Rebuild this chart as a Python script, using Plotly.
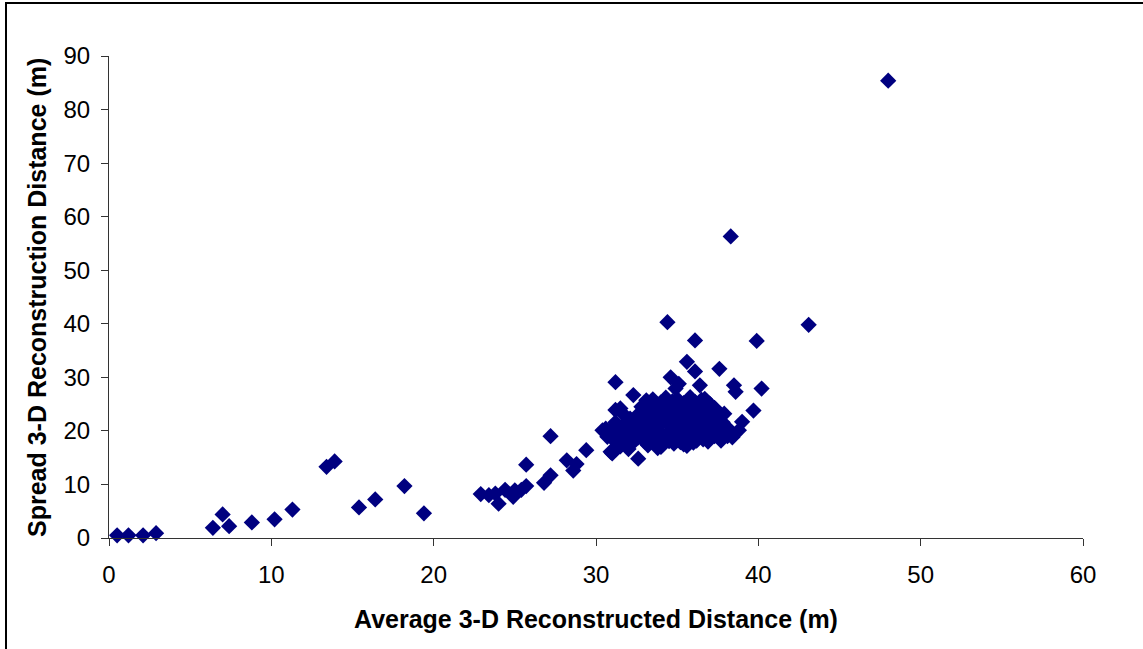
import plotly.graph_objects as go

# Isolated / sparse points
x_sparse = [0.5, 1.2, 2.1, 2.9, 6.4, 7.0, 7.4, 8.8, 10.2, 11.3, 13.4, 13.9, 15.4, 16.4, 18.2, 19.4,
            22.9, 23.4, 23.8, 24.0, 24.4, 24.9, 25.0, 25.4, 25.7, 25.7, 26.8, 27.2, 27.2, 28.2, 28.6, 28.8,
            29.4, 30.4, 30.7, 30.9, 31.2, 31.2, 34.4, 36.1, 38.3, 48.0, 43.1, 39.9, 37.6, 40.2, 39.7, 39.0,
            38.8, 38.4, 38.5, 38.6, 35.6, 36.1, 34.6, 36.4, 32.3, 35.1, 31.5, 33.1, 30.6, 31.0, 32.6]
y_sparse = [0.5, 0.5, 0.5, 0.9, 1.9, 4.4, 2.2, 2.9, 3.5, 5.3, 13.3, 14.3, 5.7, 7.2, 9.7, 4.6,
            8.2, 8.0, 8.3, 6.4, 9.0, 7.7, 8.9, 9.0, 9.7, 13.7, 10.3, 11.7, 19.0, 14.5, 12.6, 13.8,
            16.4, 20.1, 18.9, 16.1, 23.9, 29.1, 40.3, 36.9, 56.3, 85.4, 39.8, 36.8, 31.6, 27.9, 23.8, 21.7,
            20.1, 18.8, 28.5, 27.3, 32.9, 31.1, 30.0, 28.5, 26.7, 28.8, 24.2, 25.7, 20.4, 15.8, 14.8]

# Dense cluster points
x_cluster = [31.5, 32.0, 33.2, 34.0, 34.8, 35.6, 36.2, 33.8, 35.4,
             31.0, 31.8, 32.6, 33.4, 34.2, 35.0, 35.8, 36.6, 37.3,
             30.8, 31.6, 32.4, 33.1, 33.9, 34.6, 35.3, 36.0, 36.8, 37.5, 38.2,
             31.2, 32.0, 32.8, 33.5, 34.3, 35.0, 35.7, 36.4, 37.1, 37.8,
             31.7, 32.5, 33.3, 34.0, 34.8, 35.5, 36.2, 36.9, 37.6,
             32.8, 33.6, 34.4, 35.2, 35.9, 36.6, 37.3,
             33.5, 34.3, 35.0, 35.8, 36.5, 36.7, 34.9, 37.9, 37.2, 36.3,
             31.3, 32.2, 33.0, 33.7, 34.5, 35.2, 36.0, 36.9, 37.7,
             31.2, 32.0, 32.8, 33.6, 34.4, 35.2, 35.9, 36.7, 37.5, 38.1,
             31.6, 32.4, 33.2, 33.9, 34.7, 35.4, 36.1, 36.8, 37.4,
             32.1, 32.9, 33.7, 34.4, 35.1, 35.8, 36.5, 37.2,
             33.2, 34.0, 34.7, 35.5, 36.2, 36.9,
             34.0, 34.7, 35.4, 36.1, 33.0, 37.0]
y_cluster = [17.1, 16.6, 17.3, 17.0, 17.6, 17.2, 18.2, 16.8, 17.5,
             18.6, 18.4, 18.8, 18.3, 18.7, 18.5, 18.9, 18.4, 19.0,
             20.0, 20.2, 19.8, 20.3, 19.9, 20.1, 20.4, 19.8, 20.2, 19.9, 20.3,
             21.6, 21.4, 21.7, 21.3, 21.8, 21.5, 21.9, 21.4, 21.7, 21.6,
             23.1, 22.8, 23.2, 22.9, 23.3, 23.0, 23.4, 22.8, 23.1,
             24.5, 24.8, 24.4, 24.7, 24.5, 24.9, 24.3,
             25.9, 26.2, 26.0, 26.3, 25.8, 26.0, 27.9, 23.2, 19.8, 18.9,
             17.8, 17.6, 18.0, 17.7, 18.1, 17.9, 17.8, 18.0, 18.2,
             19.3, 19.1, 19.4, 19.2, 19.5, 19.3, 19.6, 19.2, 19.4, 19.0,
             20.8, 20.9, 20.7, 21.0, 20.8, 21.1, 20.9, 20.7, 21.0,
             22.3, 22.1, 22.4, 22.2, 22.5, 22.3, 22.1, 22.4,
             23.8, 24.0, 23.7, 23.9, 23.8, 23.6,
             25.3, 25.5, 25.2, 25.4, 25.0, 25.1]

xs = x_sparse + x_cluster
ys = y_sparse + y_cluster

x_ticks = [0, 10, 20, 30, 40, 50, 60]
y_ticks = [0, 10, 20, 30, 40, 50, 60, 70, 80, 90]

x_title = "Average 3-D Reconstructed Distance (m)"
y_title = "Spread 3-D Reconstruction Distance (m)"

FONT = "Liberation Sans, Arial, sans-serif"

fig = go.Figure()
fig.add_trace(go.Scatter(
    x=xs, y=ys, mode="markers",
    marker=dict(symbol="diamond", size=12.5, color="#000080", line=dict(width=0)),
    cliponaxis=False, showlegend=False,
))

fig.update_layout(
    width=1143, height=649,
    margin=dict(l=109, r=60, t=56, b=111),
    paper_bgcolor="white", plot_bgcolor="white",
    font=dict(family=FONT, color="black"),
    xaxis=dict(range=[0, 60], tickvals=x_ticks, showgrid=False, zeroline=False,
               showline=True, linecolor="#333333", linewidth=1,
               ticks="outside", ticklen=7, tickcolor="#333333",
               tickfont=dict(size=24, family=FONT), ticklabelstandoff=8),
    yaxis=dict(range=[0, 90], tickvals=y_ticks, showgrid=False, zeroline=False,
               showline=True, linecolor="#333333", linewidth=1,
               ticks="outside", ticklen=7, tickcolor="#333333",
               tickfont=dict(size=24, family=FONT), ticklabelstandoff=6),
    annotations=[
        dict(text=x_title, xref="paper", yref="paper", x=(596 - 109) / 974, y=(538 - 619) / 482,
             showarrow=False, font=dict(size=25, family=FONT, color="black", weight="bold"),
             xanchor="center", yanchor="middle"),
        dict(text=y_title, xref="paper", yref="paper", x=(37 - 109) / 974, y=(538 - 298) / 482,
             showarrow=False, textangle=-90, font=dict(size=25, family=FONT, color="black", weight="bold"),
             xanchor="center", yanchor="middle"),
    ],
    shapes=[dict(type="rect", xref="paper", yref="paper",
                 x0=(6 - 109) / 974, x1=1.3, y0=-0.5, y1=(538 - 3) / 482,
                 line=dict(color="black", width=2))],
)

fig.write_html("out.html", config={"displayModeBar": False})
